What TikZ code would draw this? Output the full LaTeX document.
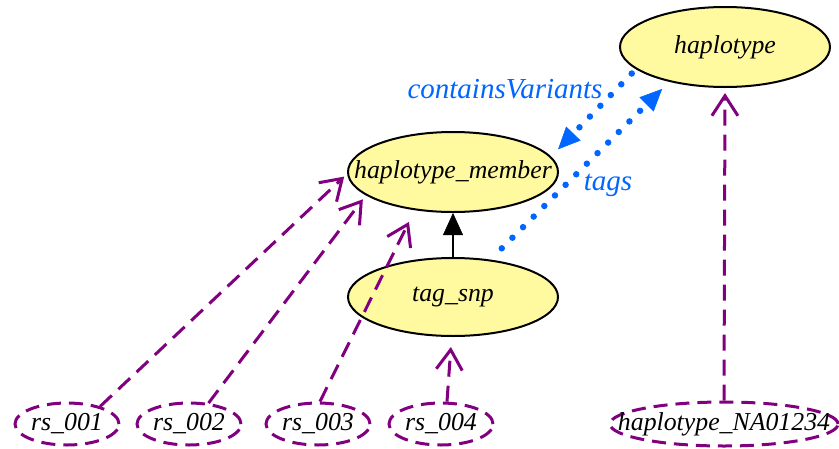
\documentclass[tikz,border=0pt]{standalone}
\usepackage{fontspec}
\setmainfont{Liberation Serif}
\usetikzlibrary{shapes.geometric,arrows.meta}
\definecolor{nodeyellow}{RGB}{255,250,160}
\definecolor{edgepurple}{RGB}{128,0,128}
\definecolor{edgeblue}{RGB}{0,102,255}
\newcommand{\ntext}[1]{\makebox[0pt][c]{#1}}
\begin{document}
\begin{tikzpicture}[x=1pt,y=-1pt,
  clsnode/.style={ellipse, draw=black, line width=2pt, fill=nodeyellow, inner sep=0pt,
    minimum width=210pt, minimum height=80pt, font=\fontsize{25.8}{30}\selectfont\itshape},
  instnode/.style={ellipse, draw=edgepurple, line width=3pt, dash pattern=on 14pt off 8pt,
    inner sep=0pt, minimum width=104pt, minimum height=42pt, text=black,
    font=\fontsize{25.8}{30}\selectfont\itshape},
  typeedge/.style={draw=edgepurple, line width=3pt, dash pattern=on 16pt off 9pt,
    -{Straight Barb[length=20pt,width=26pt,line width=3pt]}},
  propedge/.style={draw=edgeblue, line width=6.5pt, line cap=round, dash pattern=on 0pt off 15pt,
    -{Triangle[length=22pt,width=20pt,line width=0.5pt]}},
  subedge/.style={draw=black, line width=2pt, -{Triangle[length=22pt,width=20pt,line width=0.5pt]}},
  edgelabel/.style={text=edgeblue, font=\fontsize{29}{33}\selectfont\itshape, inner sep=0pt}]
\useasboundingbox (0,0) rectangle (839,448);

\node[clsnode] (hap) at (725,47) {\ntext{haplotype}};
\node[clsnode] (hm) at (453,172) {\ntext{haplotype\_member}};
\node[clsnode, minimum height=78pt] (ts) at (453,297) {\ntext{tag\_snp}};

\node[instnode] (rs1) at (67,424) {\ntext{rs\_001}};
\node[instnode] (rs2) at (189,424) {\ntext{rs\_002}};
\node[instnode] (rs3) at (318,424) {\ntext{rs\_003}};
\node[instnode] (rs4) at (441,424) {\ntext{rs\_004}};
\node[instnode, minimum width=228pt, minimum height=44pt] (na) at (724,424) {\ntext{haplotype\_NA01234}};

\draw[subedge] (ts) -- (hm);

\draw[typeedge, shorten >=4pt] (rs1.28) -- (hm.181);
\draw[typeedge, shorten >=5pt] (rs2.47) -- (hm.195);
\draw[typeedge, shorten >=13pt] (rs3.85) -- (hm.225);
\draw[typeedge, shorten >=10pt] (rs4.75) -- (ts.268);
\draw[typeedge, shorten >=5pt] (na.north) -- (hap.south);

\draw[propedge, shorten <=6pt, shorten >=10pt] (hap.194) -- (hm.9);
\draw[propedge, shorten <=16pt, shorten >=10pt] (ts.45) -- (hap.212);

\node[edgelabel, anchor=base] (lcv) at (505,98) {containsVariants};
\node[edgelabel, anchor=base] (ltags) at (608,190) {tags};
\end{tikzpicture}
\end{document}
